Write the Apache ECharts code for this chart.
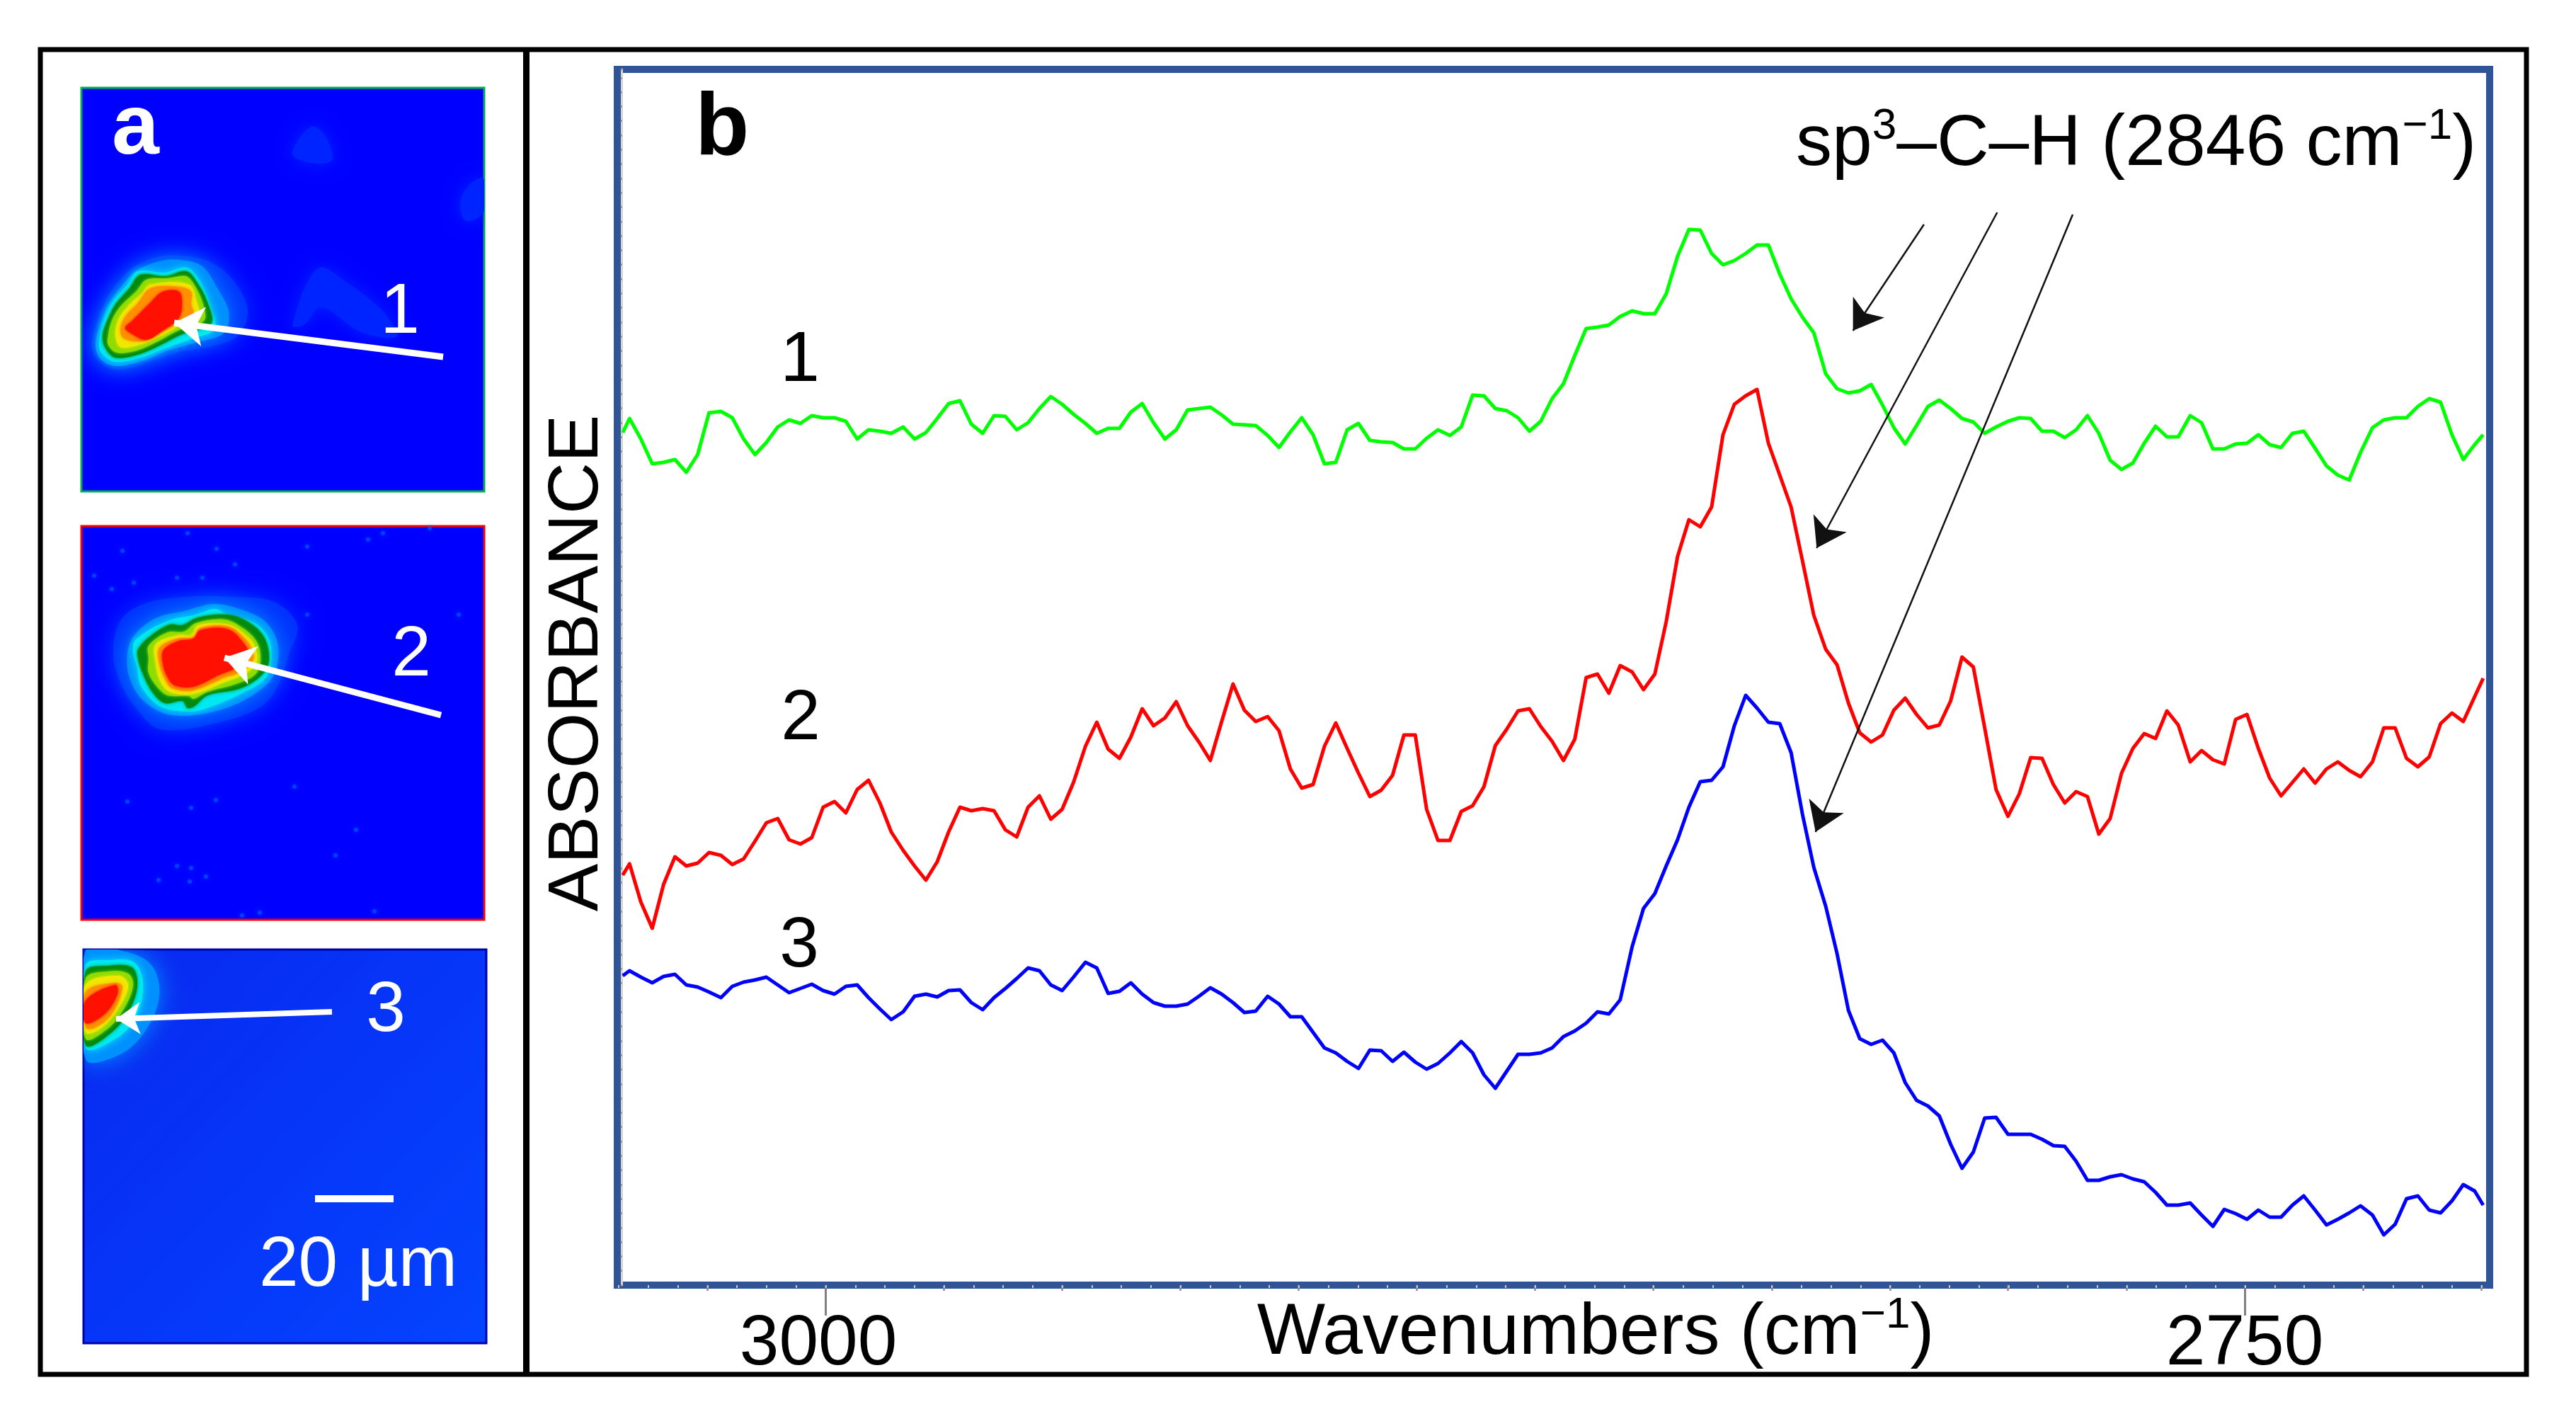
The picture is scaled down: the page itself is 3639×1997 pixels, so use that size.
<!DOCTYPE html>
<html>
<head>
<meta charset="utf-8">
<style>
  html, body { margin: 0; padding: 0; background: #fff; }
  #chart { width: 3639px; height: 1997px; }
</style>
<script src="https://cdn.jsdelivr.net/npm/echarts@6/dist/echarts.min.js"></script>
</head>
<body>
<div id="chart"></div>
<script>
// wavenumbers of the spectra samples (cm-1)
const wavenumbers = [3035.7,3034.5,3032.5,3030.5,3028.5,3026.5,3024.5,3022.5,3020.5,3018.4,
  3016.4,3014.4,3012.4,3010.4,3008.4,3006.4,3004.4,3002.4,3000.4,2998.4,
  2996.4,2994.4,2992.4,2990.4,2988.4,2986.3,2984.3,2982.3,2980.3,2978.3,
  2976.3,2974.3,2972.3,2970.3,2968.3,2966.3,2964.3,2962.3,2960.3,2958.3,
  2956.3,2954.2,2952.2,2950.2,2948.2,2946.2,2944.2,2942.2,2940.2,2938.2,
  2936.2,2934.2,2932.2,2930.2,2928.2,2926.2,2924.2,2922.1,2920.1,2918.1,
  2916.1,2914.1,2912.1,2910.1,2908.1,2906.1,2904.1,2902.1,2900.1,2898.1,
  2896.1,2894.1,2892.1,2890.0,2888.0,2886.0,2884.0,2882.0,2880.0,2878.0,
  2876.0,2874.0,2872.0,2870.0,2868.0,2866.0,2864.0,2862.0,2860.0,2857.9,
  2855.9,2853.9,2851.9,2849.9,2847.9,2845.9,2843.9,2841.9,2839.9,2837.9,
  2835.9,2833.9,2831.9,2829.9,2827.9,2825.9,2823.8,2821.8,2819.8,2817.8,
  2815.8,2813.8,2811.8,2809.8,2807.8,2805.8,2803.8,2801.8,2799.8,2797.8,
  2795.8,2793.8,2791.7,2789.7,2787.7,2785.7,2783.7,2781.7,2779.7,2777.7,
  2775.7,2773.7,2771.7,2769.7,2767.7,2765.7,2763.7,2761.7,2759.6,2757.6,
  2755.6,2753.6,2751.6,2749.6,2747.6,2745.6,2743.6,2741.6,2739.6,2737.6,
  2735.6,2733.6,2731.6,2729.6,2727.5,2725.5,2723.5,2721.5,2719.5,2717.5,
  2715.5,2713.5,2711.5,2709.5,2708.0];

// absorbance, arbitrary units
const spectrum1 = [120.4,122.4,119.5,116.0,116.2,116.6,114.8,117.3,123.2,123.4,
  122.5,119.5,117.3,119.0,121.2,122.2,121.7,122.8,122.5,122.5,
  122.0,119.5,120.8,120.6,120.3,121.2,119.5,120.4,122.4,124.5,
  124.9,121.6,120.3,122.8,122.7,120.8,121.8,123.8,125.5,124.4,
  123.0,121.7,120.3,121.0,121.0,123.3,124.5,121.8,119.5,120.8,
  123.6,123.8,124.0,122.9,121.6,121.5,121.4,120.0,118.3,120.5,
  122.5,120.1,116.0,116.2,120.8,121.7,119.3,119.1,119.0,118.1,
  118.1,119.6,120.8,120.0,121.2,125.7,125.6,123.8,123.5,122.5,
  120.6,122.0,125.2,127.3,131.3,135.1,135.3,135.6,136.8,137.6,
  137.2,137.2,140.0,145.3,149.1,149.0,145.7,144.1,144.7,145.7,
  146.9,146.9,142.8,139.3,136.7,134.5,128.7,126.6,126.0,126.3,
  127.2,124.3,121.1,118.8,121.4,124.1,125.0,123.8,122.4,121.9,
  120.3,121.2,122.0,122.5,122.4,120.6,120.6,119.7,120.8,122.8,
  120.3,116.5,115.2,116.1,118.9,121.3,119.8,119.8,122.8,121.8,
  118.1,118.1,118.8,118.9,120.1,118.7,118.3,120.3,120.6,118.2,
  115.7,114.4,113.7,117.6,121.1,122.2,122.5,122.5,124.1,125.2,
  124.7,120.1,116.6,118.7,120.1];

const spectrum2 = [57.9,59.5,54.1,50.4,56.6,60.5,59.2,59.6,61.1,60.7,
  59.4,60.2,62.7,65.3,65.9,62.9,62.3,63.2,67.5,68.3,
  66.7,70.0,71.3,68.1,64.0,61.4,59.2,57.2,59.8,64.0,
  67.5,67.0,67.3,67.0,64.3,63.3,67.5,69.1,65.8,67.2,
  71.0,76.1,79.5,75.7,74.4,77.4,81.4,79.0,80.1,82.4,
  79.0,76.7,74.1,79.6,84.9,81.2,79.6,80.3,78.3,72.9,
  70.2,70.7,76.1,79.4,75.8,72.3,69.0,69.9,72.0,77.7,
  77.7,67.2,62.8,62.8,66.9,67.7,70.4,76.2,78.5,81.1,
  81.4,78.9,76.8,74.1,77.1,85.8,86.3,83.6,87.5,86.6,
  84.1,86.3,93.7,102.9,108.1,107.1,109.9,120.1,124.4,125.6,
  126.5,118.9,114.4,109.9,102.3,94.6,89.8,87.6,82.2,78.0,
  76.7,77.7,81.2,82.9,80.6,78.7,79.1,82.5,88.7,87.3,
  78.7,70.0,66.2,69.4,74.5,74.4,70.7,68.1,69.7,69.0,
  63.7,65.9,72.3,75.8,77.9,77.2,81.1,79.1,73.9,75.5,
  74.2,73.6,79.9,80.6,75.8,71.6,69.1,71.0,72.9,70.9,
  72.9,73.9,72.7,71.8,73.9,78.7,78.7,74.4,73.2,74.6,
  79.3,80.8,79.6,83.1,85.7];

const spectrum3 = [43.7,44.4,43.5,42.7,43.6,43.9,42.4,42.1,41.4,40.6,
  42.2,42.8,43.1,43.5,42.4,41.3,41.9,42.5,41.6,41.1,
  42.2,42.4,40.6,39.0,37.5,38.6,40.8,41.1,40.7,41.6,
  41.7,39.9,38.9,40.6,41.9,43.3,44.8,44.4,42.4,41.6,
  43.5,45.6,44.8,41.2,41.5,42.7,41.1,39.9,39.4,39.4,
  39.7,40.8,42.0,41.1,39.9,38.5,38.7,40.8,39.7,37.9,
  37.9,35.7,33.5,32.8,31.6,30.6,33.2,33.1,31.6,32.9,
  31.5,30.5,31.3,32.8,34.4,32.8,29.7,27.8,30.2,32.6,
  32.6,32.8,33.5,35.1,35.9,37.0,38.6,38.3,40.3,47.8,
  53.2,55.3,59.2,62.9,67.5,71.1,71.3,73.2,79.0,83.3,
  81.5,79.5,79.3,75.2,66.5,59.0,53.5,46.8,38.8,34.8,
  34.0,34.6,32.8,28.6,26.1,25.3,23.9,19.9,16.5,18.8,
  23.6,23.7,21.3,21.3,21.3,20.6,19.7,19.6,17.5,14.8,
  14.8,15.3,15.6,15.0,14.6,13.1,11.3,11.3,11.6,9.9,
  8.3,10.7,10.1,9.3,10.6,9.6,9.6,11.3,12.6,10.6,
  8.5,9.3,10.2,11.2,9.9,7.1,8.6,12.2,12.6,10.6,
  10.2,11.9,14.2,13.3,11.3];

const labelTicks = [3000, 2750];
const mediumTicks = [3020.8,3000,2979.2,2958.3,2937.5,2916.7,2895.8,2875,2854.2,2833.3,2812.5,2791.7,2770.8,2750,2729.2,2708.3];

// contour levels of the IR maps, outermost first, in panel pixels
const levelColors = ['#0030ff', '#0090ff', '#00e8f0', '#008a10', '#8fdc00', '#f0e800', '#ff9000', '#ff1000'];

const map1Contours = [
  [[15,366],[22,333],[32,306],[48,279],[75,253],[112,238],[148,238],[182,246],[212,269],[235,313],[222,349],[192,363],[138,373],[98,386],[55,398],[28,389]],
  [[20,363],[27,333],[38,306],[58,279],[78,258],[115,244],[148,244],[172,253],[192,283],[208,316],[202,346],[165,359],[122,371],[85,386],[48,393],[27,383]],
  [[25,359],[30,333],[43,304],[65,278],[80,259],[118,261],[148,254],[165,269],[183,309],[188,341],[158,354],[118,368],[85,381],[47,387],[28,374]],
  [[30,349],[37,328],[48,306],[68,283],[83,264],[120,266],[148,259],[162,273],[178,303],[183,333],[142,348],[112,363],[82,376],[48,381],[33,366]],
  [[38,349],[43,329],[55,309],[77,288],[92,271],[122,269],[147,266],[158,276],[172,306],[173,329],[140,341],[108,358],[78,371],[50,374],[38,363]],
  [[48,348],[53,326],[68,306],[85,291],[97,278],[152,278],[163,303],[165,319],[138,336],[105,354],[78,364],[55,366]],
  [[55,341],[62,323],[78,306],[98,283],[138,281],[155,288],[155,306],[158,319],[135,333],[105,349],[85,358],[60,354]],
  [[62,339],[72,329],[95,306],[115,288],[138,288],[142,309],[137,326],[115,343],[92,356],[72,348]]
];
const map1Patches = [
  [[298,335],[334,255],[375,275],[426,316],[446,351],[395,345],[339,310],[314,335]],
  [[298,93],[324,55],[344,67],[354,102],[324,106]],
  [[535,163],[548,137],[568,128],[568,176],[543,188]]
];

const map2Contours = [
  [[45,180],[55,134],[88,110],[145,100],[212,100],[272,107],[305,140],[292,184],[278,224],[255,254],[195,277],[112,287],[75,254],[55,220]],
  [[65,180],[75,154],[105,130],[145,120],[188,110],[232,120],[262,137],[278,170],[272,210],[245,237],[195,260],[128,267],[88,247],[68,214]],
  [[73,177],[77,160],[122,134],[162,125],[188,117],[205,124],[245,137],[265,160],[268,194],[258,217],[225,237],[178,257],[152,262],[112,255],[85,227],[78,197]],
  [[80,187],[80,174],[98,155],[125,139],[142,140],[165,129],[205,125],[235,135],[258,157],[265,190],[255,210],[225,229],[178,239],[160,254],[150,257],[143,247],[118,250],[100,234],[85,204]],
  [[95,187],[95,169],[122,150],[145,149],[162,137],[202,132],[228,144],[248,164],[253,190],[245,210],[215,224],[178,234],[158,244],[152,240],[122,239],[107,227],[95,207]],
  [[105,194],[105,167],[138,154],[155,154],[165,140],[208,139],[232,154],[245,170],[247,194],[228,210],[205,219],[158,237],[125,234],[112,220]],
  [[110,194],[110,172],[135,159],[158,157],[168,144],[208,142],[232,160],[242,177],[242,190],[222,207],[202,214],[158,232],[128,229],[117,214]],
  [[115,194],[116,175],[138,162],[158,159],[168,147],[208,146],[232,169],[235,180],[218,200],[195,210],[158,227],[132,225],[122,214]]
];
const map2Specks = [[155,398],[190,387],[65,389],[359,465],[135,480],[109,500],[155,483],[153,502],[176,495],[414,544],[227,550],[252,546],[301,368],[388,429],
  [150,10],[191,32],[405,19],[135,73],[43,89],[74,80],[217,54],[171,73],[58,35],[18,70],[426,10],[319,29],[492,3],[533,125],[319,125]];

const map3Contours = [
  [[3,2],[55,2],[96,22],[107,66],[86,117],[50,149],[3,155]],
  [[3,22],[35,15],[71,18],[84,47],[76,91],[50,123],[3,139]],
  [[3,31],[35,23],[68,25],[76,47],[68,79],[43,114],[3,135]],
  [[3,41],[35,31],[63,34],[70,50],[58,82],[35,111],[3,126]],
  [[3,50],[50,37],[63,50],[50,82],[25,111],[3,117]],
  [[3,60],[45,47],[55,53],[40,91],[15,111],[3,110]],
  [[3,72],[45,50],[48,63],[30,91],[3,104]]
];

const FONT = '"Liberation Sans", Arial, sans-serif';
const chart = echarts.init(document.getElementById('chart'), null, { renderer: 'canvas' });

const toPoints = (wave, values) => values.map((v, i) => [wave[i], v]);

// a contour stack for one map panel
const contourSeries = (idx, contours, colors, patches) => ({
  type: 'custom',
  xAxisIndex: idx,
  yAxisIndex: idx,
  silent: true,
  clip: true,
  z: 2,
  data: (patches || []).concat(contours).map((c, i) => [i]),
  renderItem: (params, api) => {
    const all = (patches || []).concat(contours);
    const k = api.value(0);
    const nPatch = (patches || []).length;
    const isPatch = k < nPatch;
    const color = isPatch ? '#0024ff' : colors[k - nPatch];
    const level = k - nPatch + (8 - colors.length);
    const blur = isPatch ? 24 : (level < 2 ? 34 : (level === 2 ? 12 : 4));
    return {
      type: 'polygon',
      shape: { points: all[k].map(p => api.coord(p)), smooth: 0.35 },
      style: { fill: color, shadowBlur: blur, shadowColor: color }
    };
  }
});

// white arrow or black arrow drawn as a mark line between two data coords
const arrowLine = (from, to, color, width, head) => ({
  silent: true,
  animation: false,
  symbol: ['none', 'arrow'],
  symbolSize: head,
  label: { show: false },
  emphasis: { disabled: true },
  lineStyle: { color: color, width: width, type: 'solid', opacity: 1 },
  data: [[{ coord: from }, { coord: to }]]
});

const panelAxis = (w, h, gridIndex) => ({
  x: { type: 'value', gridIndex, min: 0, max: w, show: false },
  y: { type: 'value', gridIndex, min: 0, max: h, inverse: true, show: false }
});

const sameX = { type: 'value', min: 2706.86, max: 3036.66, inverse: true, offset: 4.5, position: 'bottom', splitLine: { show: false }, axisLine: { show: false }, axisPointer: { show: false } };
const hiddenY = gridIndex => ({ type: 'value', gridIndex, min: 0, max: 171.7, show: false });

const minorTicks = [];
for (let k = 0; k < 64; k++) minorTicks.push(3036.4 - k * 250 / 48);

const plotRect = { left: 872, top: 98, width: 2645, height: 1717 };
const p1 = panelAxis(569, 570, 3);
const p2 = panelAxis(569, 556, 4);
const p3 = panelAxis(569, 556, 5);

const option = {
  animation: false,
  backgroundColor: '#ffffff',
  textStyle: { fontFamily: FONT },
  grid: [
    Object.assign({ show: true, backgroundColor: '#fff', borderColor: '#2f5597', borderWidth: 10 }, plotRect),
    Object.assign({}, plotRect),
    Object.assign({}, plotRect),
    { left: 115, top: 124, width: 569, height: 570, show: true, backgroundColor: '#0000ff', borderColor: '#00b050', borderWidth: 3 },
    { left: 115, top: 743, width: 569, height: 556, show: true, backgroundColor: '#0000ff', borderColor: '#ff0000', borderWidth: 3 },
    {
      left: 118, top: 1341, width: 569, height: 556, show: true, borderColor: '#0000a8', borderWidth: 3,
      backgroundColor: { type: 'linear', x: 0, y: 0, x2: 1, y2: 1, colorStops: [{ offset: 0, color: '#0828f0' }, { offset: 1, color: '#0444ff' }] }
    }
  ],
  xAxis: [
    Object.assign({}, sameX, {
      gridIndex: 0,
      axisTick: { show: true, length: 8, customValues: mediumTicks, lineStyle: { color: '#8a8a8a', width: 2.5 } },
      axisLabel: { show: false },
      name: '{n|Wavenumbers (cm}{s|\u22121}{n|)}',
      nameLocation: 'middle',
      nameGap: 7,
      nameTextStyle: {
        padding: [0, 0, 0, 119],
        rich: {
          n: { fontFamily: FONT, fontSize: 102, lineHeight: 115, color: '#000' },
          s: { fontFamily: FONT, fontSize: 62, lineHeight: 115, verticalAlign: 'top', color: '#000' }
        }
      }
    }),
    Object.assign({}, sameX, {
      gridIndex: 1,
      axisTick: { show: true, length: 43, customValues: labelTicks, lineStyle: { color: '#808080', width: 3 } },
      axisLabel: {
        show: true, customValues: labelTicks, margin: 30, fontFamily: FONT, fontSize: 100, color: '#000',
        formatter: v => (v === 3000 ? '{a|3000}' : '{b|' + v + '}'),
        rich: {
          a: { fontFamily: FONT, fontSize: 100, color: '#000', padding: [0, 20, 0, 0] },
          b: { fontFamily: FONT, fontSize: 100, color: '#000' }
        }
      }
    }),
    Object.assign({}, sameX, {
      gridIndex: 2,
      axisTick: { show: true, length: 4, customValues: minorTicks, lineStyle: { color: '#c8c8c8', width: 2 } },
      axisLabel: { show: false }
    }),
    p1.x, p2.x, p3.x
  ],
  yAxis: [
    {
      type: 'value', gridIndex: 0, min: 0, max: 171.7, interval: 2.03, offset: -6.5,
      splitLine: { show: false },
      axisLine: { show: true, lineStyle: { color: '#d4d4d4', width: 3 } },
      axisTick: { show: true, inside: false, length: 2, lineStyle: { color: '#808080', width: 2.5 } },
      axisLabel: { show: false },
      name: 'ABSORBANCE',
      nameLocation: 'middle',
      nameGap: 12,
      nameRotate: 90,
      nameTextStyle: { fontFamily: FONT, fontSize: 101, color: '#000', padding: [0, 0, 0, 40] }
    },
    hiddenY(1), hiddenY(2), p1.y, p2.y, p3.y
  ],
  series: [
    {
      name: '1', type: 'line', xAxisIndex: 0, yAxisIndex: 0, showSymbol: false, symbol: 'none', z: 3,
      lineStyle: { color: '#00ff00', width: 5, join: 'round' },
      data: toPoints(wavenumbers, spectrum1),
      markLine: arrowLine([2806.5, 149.8], [2819.0, 134.8], '#111', 2.5, 40)
    },
    {
      name: '2', type: 'line', xAxisIndex: 0, yAxisIndex: 0, showSymbol: false, symbol: 'none', z: 3,
      lineStyle: { color: '#ff0000', width: 5, join: 'round' },
      data: toPoints(wavenumbers, spectrum2),
      markLine: arrowLine([2793.6, 151.5], [2825.4, 104.1], '#111', 2.5, 40)
    },
    {
      name: '3', type: 'line', xAxisIndex: 0, yAxisIndex: 0, showSymbol: false, symbol: 'none', z: 3,
      lineStyle: { color: '#0000ff', width: 5, join: 'round' },
      data: toPoints(wavenumbers, spectrum3),
      markLine: arrowLine([2780.3, 151.2], [2825.6, 64.0], '#111', 2.5, 40)
    },
    contourSeries(3, map1Contours, levelColors, map1Patches),
    contourSeries(4, map2Contours, levelColors),
    contourSeries(5, map3Contours, levelColors.slice(1)),
    {
      type: 'scatter', xAxisIndex: 4, yAxisIndex: 4, symbol: 'circle', symbolSize: 6, silent: true, z: 1,
      itemStyle: { color: '#0068ff', opacity: 0.55, shadowBlur: 6, shadowColor: '#0068ff' },
      data: map2Specks
    },
    { type: 'line', xAxisIndex: 3, yAxisIndex: 3, data: [], z: 4, markLine: arrowLine([511, 380], [131, 332], '#fff', 9, 42) },
    { type: 'line', xAxisIndex: 4, yAxisIndex: 4, data: [], z: 4, markLine: arrowLine([508, 267], [202, 186], '#fff', 9, 42) },
    { type: 'line', xAxisIndex: 5, yAxisIndex: 5, data: [], z: 4, markLine: arrowLine([351, 88], [46, 98], '#fff', 8, 34) },
    { type: 'line', xAxisIndex: 5, yAxisIndex: 5, data: [], z: 4, markLine: Object.assign(arrowLine([327, 352], [438, 352], '#fff', 10, 0), { symbol: 'none' }) }
  ],
  graphic: [
    { type: 'rect', z: 50, silent: true, shape: { x: 57, y: 70, width: 3512, height: 1871 }, style: { fill: 'none', stroke: '#000', lineWidth: 7 } },
    { type: 'line', z: 50, silent: true, shape: { x1: 743.5, y1: 70, x2: 743.5, y2: 1941 }, style: { stroke: '#000', lineWidth: 9 } },
    { type: 'text', z: 60, silent: true, x: 158, y: 244, style: { text: 'a', fill: '#fff', font: 'bold 120px ' + FONT, textVerticalAlign: 'bottom' } },
    { type: 'text', z: 60, silent: true, x: 982, y: 246, style: { text: 'b', fill: '#000', font: 'bold 125px ' + FONT, textVerticalAlign: 'bottom' } },
    { type: 'text', z: 60, silent: true, x: 565, y: 442, style: { text: '1', fill: '#fff', font: '100px ' + FONT, textAlign: 'center', textVerticalAlign: 'middle' } },
    { type: 'text', z: 60, silent: true, x: 581, y: 926, style: { text: '2', fill: '#fff', font: '100px ' + FONT, textAlign: 'center', textVerticalAlign: 'middle' } },
    { type: 'text', z: 60, silent: true, x: 545, y: 1428, style: { text: '3', fill: '#fff', font: '100px ' + FONT, textAlign: 'center', textVerticalAlign: 'middle' } },
    { type: 'text', z: 60, silent: true, x: 366, y: 1788, style: { text: '20 \u00b5m', fill: '#fff', font: '100px ' + FONT, textVerticalAlign: 'middle' } },
    { type: 'text', z: 60, silent: true, x: 1130, y: 510, style: { text: '1', fill: '#000', font: '100px ' + FONT, textAlign: 'center', textVerticalAlign: 'middle' } },
    { type: 'text', z: 60, silent: true, x: 1131, y: 1016, style: { text: '2', fill: '#000', font: '100px ' + FONT, textAlign: 'center', textVerticalAlign: 'middle' } },
    { type: 'text', z: 60, silent: true, x: 1129, y: 1337, style: { text: '3', fill: '#000', font: '100px ' + FONT, textAlign: 'center', textVerticalAlign: 'middle' } },
    {
      type: 'text', z: 60, silent: true, x: 2537, y: 205,
      style: {
        text: '{n|sp}{s|3}{n|\u2013C\u2013H (2846 cm}{s|\u22121}{n|)}',
        textVerticalAlign: 'middle',
        rich: {
          n: { fontFamily: FONT, fontSize: 102, lineHeight: 115, fill: '#000' },
          s: { fontFamily: FONT, fontSize: 62, lineHeight: 115, verticalAlign: 'top', fill: '#000' }
        }
      }
    }
  ]
};

chart.setOption(option);
</script>
</body>
</html>
